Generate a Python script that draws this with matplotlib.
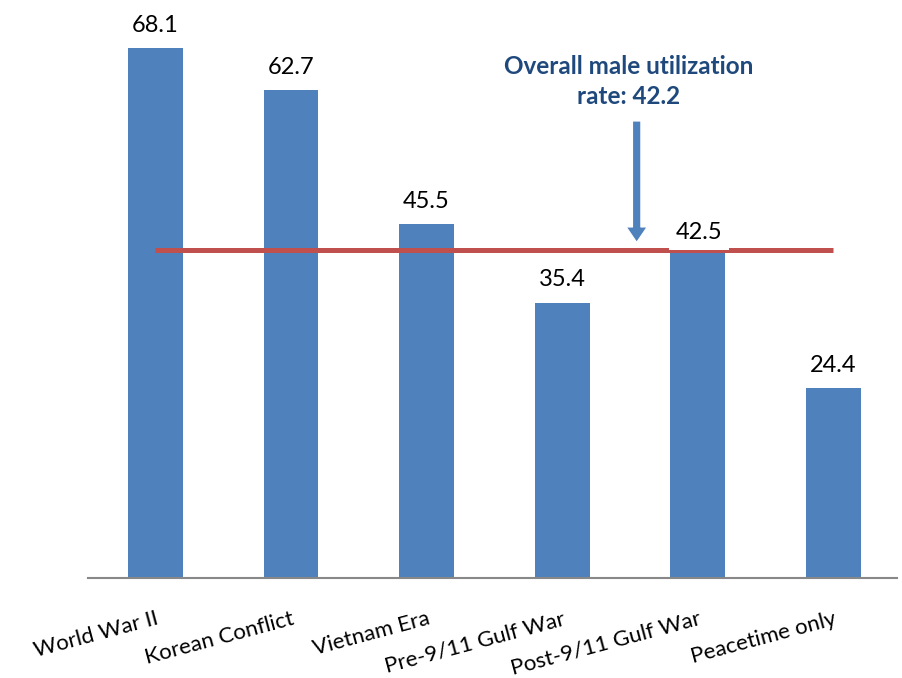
import matplotlib
matplotlib.use("Agg")
import matplotlib.pyplot as plt

categories = ["World War II", "Korean Conflict", "Vietnam Era",
              "Pre-9/11 Gulf War", "Post-9/11 Gulf War", "Peacetime only"]
rates = [68.1, 62.7, 45.5, 35.4, 42.5, 24.4]
overall_rate = 42.2

plt.rcParams["font.family"] = ["Lato", "DejaVu Sans"]

fig = plt.figure(figsize=(9.03, 6.78), dpi=100)
ax = fig.add_axes([88 / 903, 1 - 578 / 678, (897 - 88) / 903, 578 / 678])

x = list(range(len(categories)))
bars = ax.bar(x, rates, width=0.405, color="#4F81BD", zorder=2)

ax.set_xlim(-0.497, 5.47)
ax.set_ylim(0, 74.3)

# Overall rate reference line across the bar centres
ax.plot([x[0], x[-1]], [overall_rate, overall_rate], color="#C0504D",
        lw=3.6, solid_capstyle="butt", zorder=3)

for i, (xi, v) in enumerate(zip(x, rates)):
    if i == 4:
        # this label sits on a white box just above the line
        ax.annotate(f"{v}", (xi, v), xytext=(1, 3), textcoords="offset points",
                    ha="center", va="bottom", fontsize=17, color="black",
                    bbox=dict(boxstyle="square,pad=0.3", fc="white", ec="none"),
                    zorder=4)
    else:
        ax.annotate(f"{v}", (xi, v), xytext=(0, 9), textcoords="offset points",
                    ha="center", va="bottom", fontsize=17, color="black",
                    zorder=4)

# Callout arrow pointing to the reference line
ax.annotate("", xy=(3.55, overall_rate + 0.6), xytext=(3.55, 59.1),
            arrowprops=dict(arrowstyle="simple,head_width=1.5,head_length=1.1,tail_width=0.6",
                            fc="#4F81BD", ec="white", lw=0.8),
            zorder=5)
ax.text(3.49, 63.8, "Overall male utilization\nrate: 42.2", ha="center",
        va="center", fontsize=17.5, fontweight="bold", color="#1F497D",
        linespacing=1.35)

for s in ["top", "right", "left"]:
    ax.spines[s].set_visible(False)
ax.spines["bottom"].set_color("#888888")
ax.spines["bottom"].set_linewidth(1.5)
ax.set_yticks([])
ax.set_xticks(x)
ax.set_xticklabels(categories, rotation=15, ha="right", va="top",
                   rotation_mode="anchor", fontsize=16)
ax.tick_params(axis="x", length=0, pad=22)

fig.savefig("out.png", dpi=100)
